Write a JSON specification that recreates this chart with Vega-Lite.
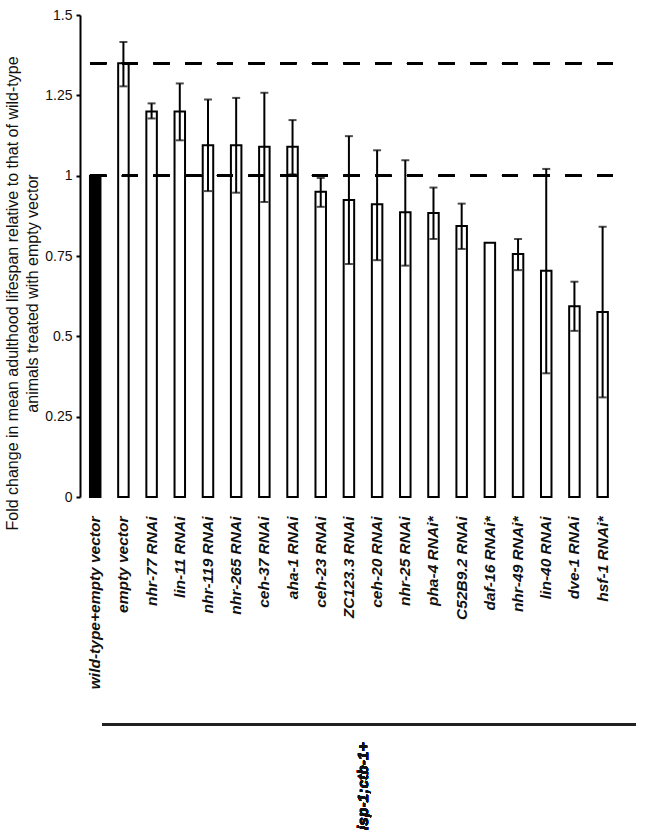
{
  "$schema": "https://vega.github.io/schema/vega-lite/v6.json",
  "width": 533,
  "height": 482,
  "padding": {"left": 4, "top": 8, "right": 0, "bottom": 0},
  "autosize": {"type": "pad"},
  "config": {"view": {"stroke": null}, "font": "Liberation Sans"},
  "data": {
    "values": [
      {"cond": "wild-type+empty vector", "grp": "wt", "v": 1.0, "lo": null, "hi": null},
      {"cond": "empty vector", "grp": "isp", "v": 1.35, "lo": 1.278, "hi": 1.416},
      {"cond": "nhr-77 RNAi", "grp": "isp", "v": 1.2, "lo": 1.178, "hi": 1.225},
      {"cond": "lin-11 RNAi", "grp": "isp", "v": 1.2, "lo": 1.11, "hi": 1.287},
      {"cond": "nhr-119 RNAi", "grp": "isp", "v": 1.095, "lo": 0.952, "hi": 1.237},
      {"cond": "nhr-265 RNAi", "grp": "isp", "v": 1.095, "lo": 0.947, "hi": 1.242},
      {"cond": "ceh-37 RNAi", "grp": "isp", "v": 1.09, "lo": 0.918, "hi": 1.258},
      {"cond": "aha-1 RNAi", "grp": "isp", "v": 1.09, "lo": 1.004, "hi": 1.173},
      {"cond": "ceh-23 RNAi", "grp": "isp", "v": 0.95, "lo": 0.903, "hi": 0.993},
      {"cond": "ZC123.3 RNAi", "grp": "isp", "v": 0.924, "lo": 0.725, "hi": 1.123},
      {"cond": "ceh-20 RNAi", "grp": "isp", "v": 0.911, "lo": 0.737, "hi": 1.079},
      {"cond": "nhr-25 RNAi", "grp": "isp", "v": 0.886, "lo": 0.72, "hi": 1.048},
      {"cond": "pha-4 RNAi*", "grp": "isp", "v": 0.884, "lo": 0.803, "hi": 0.963},
      {"cond": "C52B9.2 RNAi", "grp": "isp", "v": 0.843, "lo": 0.772, "hi": 0.913},
      {"cond": "daf-16 RNAi*", "grp": "isp", "v": 0.791, "lo": null, "hi": null},
      {"cond": "nhr-49 RNAi*", "grp": "isp", "v": 0.756, "lo": 0.706, "hi": 0.803},
      {"cond": "lin-40 RNAi", "grp": "isp", "v": 0.704, "lo": 0.385, "hi": 1.021},
      {"cond": "dve-1 RNAi", "grp": "isp", "v": 0.594, "lo": 0.517, "hi": 0.67},
      {"cond": "hsf-1 RNAi*", "grp": "isp", "v": 0.576, "lo": 0.31, "hi": 0.841}
    ]
  },
  "encoding": {
    "x": {
      "field": "cond",
      "type": "nominal",
      "sort": null,
      "scale": {"paddingInner": 0.6275, "paddingOuter": 0.268, "align": 0.66},
      "axis": {
        "title": null,
        "labelAngle": 270,
        "labelAlign": "right",
        "labelBaseline": "middle",
        "domain": false,
        "ticks": false,
        "labelPadding": 19,
        "labelFont": "Liberation Sans",
        "labelFontSize": 15.5,
        "labelFontWeight": "bold",
        "labelFontStyle": "italic",
        "labelColor": "#111111",
        "labelLimit": 400,
        "labelOverlap": false
      }
    }
  },
  "layer": [
    {
      "mark": {"type": "bar", "stroke": "black", "strokeWidth": 2},
      "encoding": {
        "y": {
          "field": "v",
          "type": "quantitative",
          "scale": {"domain": [0, 1.5], "nice": false, "zero": true},
          "axis": {
            "values": [0, 0.25, 0.5, 0.75, 1, 1.25, 1.5],
            "format": ".3~g",
            "grid": false,
            "domainColor": "black",
            "domainWidth": 2,
            "tickColor": "black",
            "tickWidth": 2,
            "tickSize": 4,
            "labelFont": "Liberation Sans",
            "labelFontSize": 14,
            "labelColor": "#111111",
            "labelPadding": 4,
            "title": ["Fold change in mean adulthood lifespan relative to that of wild-type", "animals treated with empty vector"],
            "titleFont": "Liberation Sans",
            "titleFontSize": 16,
            "titleFontWeight": "normal",
            "titleColor": "#111111",
            "titleLineHeight": 20,
            "titlePadding": 4,
            "titleY": 278
          }
        },
        "color": {
          "field": "grp",
          "type": "nominal",
          "scale": {"domain": ["wt", "isp"], "range": ["black", "white"]},
          "legend": null
        }
      }
    },
    {
      "mark": {"type": "rule", "color": "black", "strokeWidth": 2},
      "encoding": {
        "y": {"field": "lo", "type": "quantitative"},
        "y2": {"field": "hi"}
      }
    },
    {
      "mark": {"type": "tick", "color": "black", "size": 8, "thickness": 2},
      "encoding": {"y": {"field": "hi", "type": "quantitative"}}
    },
    {
      "mark": {"type": "tick", "color": "black", "size": 8, "thickness": 2},
      "encoding": {"y": {"field": "lo", "type": "quantitative"}}
    },
    {
      "mark": {"type": "rule", "color": "black", "strokeWidth": 2, "strokeDash": [16, 15.67]},
      "encoding": {"x": null, "y": {"datum": 1}}
    },
    {
      "mark": {"type": "rule", "color": "black", "strokeWidth": 2, "strokeDash": [16, 15.67]},
      "encoding": {"x": null, "y": {"datum": 1.35}}
    },
    {
      "mark": {"type": "rule", "color": "#222222", "strokeWidth": 2, "clip": false, "xOffset": 7, "x2Offset": 33},
      "encoding": {
        "x": {"datum": "wild-type+empty vector"},
        "x2": {"datum": "hsf-1 RNAi*"},
        "y": {"datum": -0.707}
      }
    },
    {
      "mark": {"type": "text", "angle": 270, "align": "right", "baseline": "middle", "font": "Liberation Sans", "fontSize": 15.5, "fontWeight": "bold", "fontStyle": "italic", "color": "#111111", "xOffset": 14},
      "encoding": {
        "x": {"datum": "ZC123.3 RNAi"},
        "y": {"datum": -0.764},
        "text": {"value": "isp-1;ctb-1+"}
      }
    }
  ]
}
